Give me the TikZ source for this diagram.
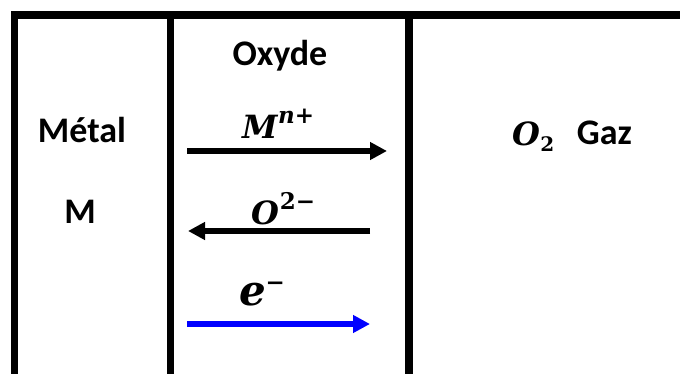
\documentclass[tikz,border=0pt]{standalone}
\usepackage{fontspec}
\setmainfont{Carlito}
\newfontfamily\ionfont{DejaVu Serif}
\usetikzlibrary{arrows.meta}
\definecolor{fluxblue}{HTML}{0000FF}
% espece chargee : symbole, exposant
\newcommand{\espece}[3][32]{{\fontsize{#1}{#1}\selectfont\itshape #2}%
  \raisebox{15pt}{\fontsize{23}{23}\selectfont #3}}

\begin{document}
\begin{tikzpicture}[x=1pt, y=-1pt,
  wall/.style={line width=7.5pt, color=black, line join=miter},
  flux/.style={line width=5.5pt, -{Triangle[length=17pt,width=17pt]}},
  phase/.style={font=\fontsize{36}{40}\selectfont\bfseries, anchor=base, inner sep=0pt},
  ion/.style={font=\ionfont\bfseries, anchor=base, inner sep=0pt},
]
\useasboundingbox (0,0) rectangle (680,374);
\def\xa{14.5}
\def\xb{170.5}
\def\xc{409}
\def\ytop{15}
% parois des trois zones
\draw[wall] (\xa,374) -- (\xa,\ytop) -- (680,\ytop);
\draw[wall] (\xb,\ytop) -- (\xb,374);
\draw[wall] (\xc,\ytop) -- (\xc,374);
% textes des phases
\node[phase] (oxyde) at (280,66) {Oxyde};
\node[phase] (metal) at (82,143) {Métal};
\node[phase] (metM) at (80,224) {M};
\node[ion] (otwo) at (533.5,146) {{\fontsize{32}{34}\selectfont\itshape O}\raisebox{-6pt}{\fontsize{20}{20}\selectfont 2}};
\node[phase] (gaz) at (604.5,145) {Gaz};
% flux a travers l'oxyde
\coordinate (mA) at (187,151);
\coordinate (mB) at (387,151);
\coordinate (oA) at (370,231);
\coordinate (oB) at (188,231);
\coordinate (eA) at (187,324);
\coordinate (eB) at (370,324);
\draw[flux] (mA) -- (mB);
\draw[flux] (oA) -- (oB);
\draw[flux, fluxblue] (eA) -- (eB);
\node[ion] (mion) at (278.5,139) {\espece{M}{{\itshape n}+}};
\node[ion] (oion) at (283.5,225) {\espece{O}{2−}};
\node[ion] (elec) at (262,305) {\espece[42]{e}{−}};
\end{tikzpicture}
\end{document}
